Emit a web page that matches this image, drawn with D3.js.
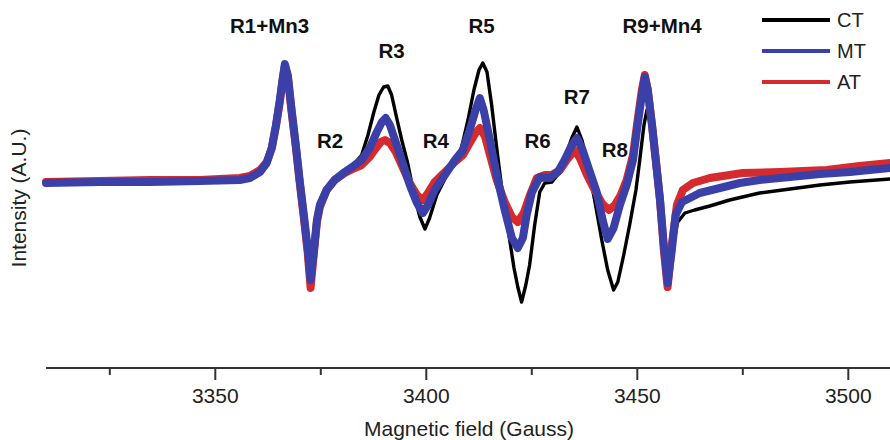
<!DOCTYPE html>
<html><head><meta charset="utf-8">
<script src="https://cdn.jsdelivr.net/npm/d3@7"></script>
<style>
html,body{margin:0;padding:0;background:#fff;}
svg{display:block;font-family:"Liberation Sans",Arial,sans-serif;}
</style></head>
<body>
<svg id="chart" width="890" height="440"></svg>
<script>
// ---- data (field in Gauss, intensity in arbitrary units) ----
const seriesNames = ["CT", "MT", "AT"];
const seriesColors = ["#000000", "#3b40a8", "#d62b2e"];

const ctField = [3310.0,3322.7,3334.6,3346.4,3355.9,3358.3,3360.7,3362.3,3363.5,3364.5,3365.4,3366.1,3366.6,3367.3,3368.2,3369.2,3370.1,3371.1,3372.0,3372.7,3373.5,3374.2,3374.9,3376.5,3378.4,3380.8,3383.2,3384.8,3386.3,3387.7,3388.9,3390.0,3391.0,3391.9,3393.1,3394.3,3395.7,3397.4,3398.6,3399.8,3400.9,3402.6,3405.0,3406.9,3408.5,3410.0,3411.4,3412.6,3413.5,3414.5,3415.6,3416.8,3418.2,3419.7,3420.9,3421.8,3422.7,3423.7,3424.6,3425.8,3427.0,3428.2,3429.9,3431.8,3433.2,3434.6,3435.8,3437.0,3438.4,3440.0,3441.7,3443.1,3444.5,3445.5,3446.9,3448.3,3449.8,3450.7,3451.7,3452.4,3453.1,3454.0,3455.0,3456.2,3457.3,3458.3,3459.7,3461.4,3463.7,3467.3,3472.0,3479.1,3486.3,3493.4,3500.5,3510.0];
const ctValue = [-0.01,0.00,0.01,0.01,0.03,0.05,0.11,0.20,0.35,0.57,0.83,1.07,1.20,1.11,0.78,0.43,0.08,-0.27,-0.62,-0.87,-0.62,-0.35,-0.22,-0.07,0.03,0.11,0.20,0.28,0.48,0.71,0.88,0.96,0.97,0.88,0.65,0.43,0.20,-0.15,-0.34,-0.46,-0.35,-0.12,0.08,0.20,0.36,0.63,0.93,1.13,1.20,1.11,0.78,0.35,-0.12,-0.52,-0.85,-1.04,-1.19,-1.02,-0.82,-0.42,-0.09,0.00,0.01,0.11,0.28,0.45,0.56,0.43,0.18,-0.17,-0.57,-0.87,-1.07,-0.99,-0.72,-0.42,-0.07,0.23,0.58,0.73,0.65,0.38,-0.02,-0.57,-0.97,-0.67,-0.39,-0.30,-0.27,-0.23,-0.17,-0.10,-0.06,-0.02,0.01,0.04];

const mtField = [3310.0,3322.7,3334.6,3346.4,3355.9,3358.3,3360.7,3362.3,3363.5,3364.5,3365.4,3366.1,3366.6,3367.3,3368.2,3369.2,3370.1,3371.1,3372.0,3372.7,3373.5,3374.2,3374.9,3376.5,3378.4,3380.8,3383.2,3384.8,3386.7,3388.4,3389.6,3390.5,3391.5,3392.7,3394.3,3396.2,3397.9,3399.3,3400.5,3402.1,3405.0,3406.9,3408.8,3410.4,3411.8,3412.8,3413.7,3415.2,3416.8,3418.7,3420.4,3421.8,3423.0,3423.9,3425.1,3427.0,3429.4,3431.3,3432.9,3434.6,3435.8,3437.0,3438.9,3440.5,3441.9,3443.1,3444.5,3446.0,3447.6,3449.1,3450.2,3451.2,3451.9,3452.6,3453.6,3454.5,3455.5,3456.4,3457.3,3458.3,3459.2,3460.7,3462.6,3464.9,3469.7,3474.4,3479.1,3486.3,3493.4,3500.5,3510.0];
const mtValue = [0.00,0.01,0.01,0.02,0.03,0.05,0.11,0.20,0.35,0.58,0.83,1.05,1.19,1.08,0.73,0.38,0.03,-0.32,-0.65,-0.97,-0.67,-0.37,-0.22,-0.07,0.03,0.11,0.18,0.23,0.35,0.51,0.61,0.65,0.58,0.43,0.23,-0.02,-0.20,-0.30,-0.22,-0.07,0.11,0.23,0.33,0.53,0.73,0.85,0.73,0.43,0.08,-0.27,-0.55,-0.65,-0.55,-0.32,-0.10,0.06,0.05,0.11,0.23,0.38,0.45,0.35,0.11,-0.09,-0.37,-0.56,-0.45,-0.22,-0.02,0.23,0.58,0.88,1.06,0.93,0.58,0.23,-0.17,-0.62,-1.00,-0.67,-0.32,-0.19,-0.15,-0.10,-0.05,0.00,0.03,0.06,0.09,0.11,0.15];

const atField = [3310.0,3322.7,3334.6,3346.4,3355.9,3358.3,3360.7,3362.3,3363.5,3364.5,3365.4,3366.1,3366.6,3367.3,3368.2,3369.2,3370.1,3371.1,3372.0,3372.7,3373.5,3374.2,3374.9,3376.5,3378.4,3380.8,3383.2,3384.8,3386.7,3388.4,3389.3,3390.3,3391.5,3392.9,3394.5,3396.2,3397.9,3399.3,3400.5,3402.1,3405.0,3406.9,3408.8,3410.4,3411.8,3412.8,3414.0,3415.2,3416.8,3418.7,3420.4,3421.8,3423.2,3424.6,3426.3,3428.2,3429.9,3431.8,3433.4,3435.3,3436.5,3438.2,3440.0,3441.7,3443.4,3444.8,3446.2,3447.6,3449.1,3450.2,3451.2,3451.9,3452.6,3453.6,3454.5,3455.5,3456.4,3457.3,3458.3,3459.5,3460.9,3463.3,3467.3,3475.1,3483.9,3495.0,3502.8,3510.0];
const atValue = [0.01,0.02,0.03,0.03,0.05,0.07,0.13,0.21,0.35,0.57,0.81,1.03,1.17,1.06,0.71,0.36,0.01,-0.35,-0.69,-1.05,-0.69,-0.39,-0.24,-0.07,0.03,0.10,0.15,0.18,0.26,0.36,0.41,0.43,0.40,0.31,0.16,0.00,-0.12,-0.17,-0.10,0.01,0.13,0.21,0.28,0.40,0.50,0.55,0.47,0.28,0.03,-0.19,-0.34,-0.39,-0.30,-0.13,0.05,0.08,0.08,0.13,0.23,0.33,0.25,0.08,-0.07,-0.20,-0.27,-0.22,-0.12,0.03,0.28,0.63,0.93,1.08,0.93,0.58,0.23,-0.17,-0.67,-1.04,-0.62,-0.22,-0.07,0.00,0.05,0.10,0.11,0.13,0.17,0.20];

const majorTicks = [3350, 3400, 3450, 3500];
const minorTicks = [3325, 3375, 3425, 3475];
const peakLabels = ["R1+Mn3", "R2", "R3", "R4", "R5", "R6", "R7", "R8", "R9+Mn4"];
const peakLabelField = [3363.0, 3377.3, 3391.9, 3402.4, 3413.2, 3426.5, 3435.8, 3444.8, 3456.0];
const peakLabelValue = [1.50, 0.35, 1.25, 0.35, 1.50, 0.35, 0.79, 0.26, 1.50];

// ---- layout ----
const svg = d3.select("#chart");
const x = d3.scaleLinear().domain([3310, 3510]).range([46, 890]);
const y = d3.scaleLinear().domain([-1.85, 1.83]).range([368, 0]);

const series = [
  {name: "CT", field: ctField, value: ctValue, color: seriesColors[0], w: 3.4},
  {name: "AT", field: atField, value: atValue, color: seriesColors[2], w: 8},
  {name: "MT", field: mtField, value: mtValue, color: seriesColors[1], w: 8}
];

const line = d3.line().x(d => x(d[0])).y(d => y(d[1])).curve(d3.curveLinear);
series.forEach(s => {
  svg.append("path")
    .datum(s.field.map((f, i) => [f, s.value[i]]))
    .attr("d", line)
    .attr("fill", "none")
    .attr("stroke", s.color)
    .attr("stroke-width", s.w)
    .attr("stroke-linejoin", "round")
    .attr("stroke-linecap", "round");
});

// x axis
const axisY = 368;
svg.append("line").attr("x1", 46).attr("x2", 890).attr("y1", axisY).attr("y2", axisY)
  .attr("stroke", "#333").attr("stroke-width", 2);
const gMinor = svg.append("g").attr("transform", `translate(0,${axisY})`)
  .call(d3.axisBottom(x).tickValues(minorTicks).tickSize(7).tickSizeOuter(0).tickFormat(""));
const gMajor = svg.append("g").attr("transform", `translate(0,${axisY})`)
  .call(d3.axisBottom(x).tickValues(majorTicks).tickSize(12).tickSizeOuter(0).tickPadding(8).tickFormat(d3.format("d")));
[gMinor, gMajor].forEach(g => {
  g.select(".domain").remove();
  g.selectAll(".tick line").attr("stroke", "#333").attr("stroke-width", 2);
});
gMajor.selectAll(".tick text").attr("font-size", 21).attr("fill", "#222")
  .attr("font-family", "Liberation Sans, Arial, sans-serif");

svg.append("text").attr("x", 469).attr("y", 436).attr("text-anchor", "middle")
  .attr("font-size", 21).attr("fill", "#222").text("Magnetic field (Gauss)");
svg.append("text").attr("transform", "translate(26,198) rotate(-90)").attr("text-anchor", "middle")
  .attr("font-size", 21).attr("fill", "#222").text("Intensity (A.U.)");

// peak labels
peakLabels.forEach((t, i) => {
  svg.append("text").attr("x", x(peakLabelField[i])).attr("y", y(peakLabelValue[i]))
    .attr("text-anchor", "middle").attr("font-size", 20.5).attr("font-weight", "bold")
    .attr("fill", "#111").text(t);
});

// legend
const legendOrder = ["CT", "MT", "AT"];
legendOrder.forEach((n, i) => {
  const c = seriesColors[seriesNames.indexOf(n)];
  const ly = 20 + i * 31;
  svg.append("line").attr("x1", 762).attr("x2", 830).attr("y1", ly).attr("y2", ly)
    .attr("stroke", c).attr("stroke-width", 4);
  svg.append("text").attr("x", 837).attr("y", ly + 7).attr("font-size", 20)
    .attr("fill", "#222").text(n);
});
</script>
</body></html>
